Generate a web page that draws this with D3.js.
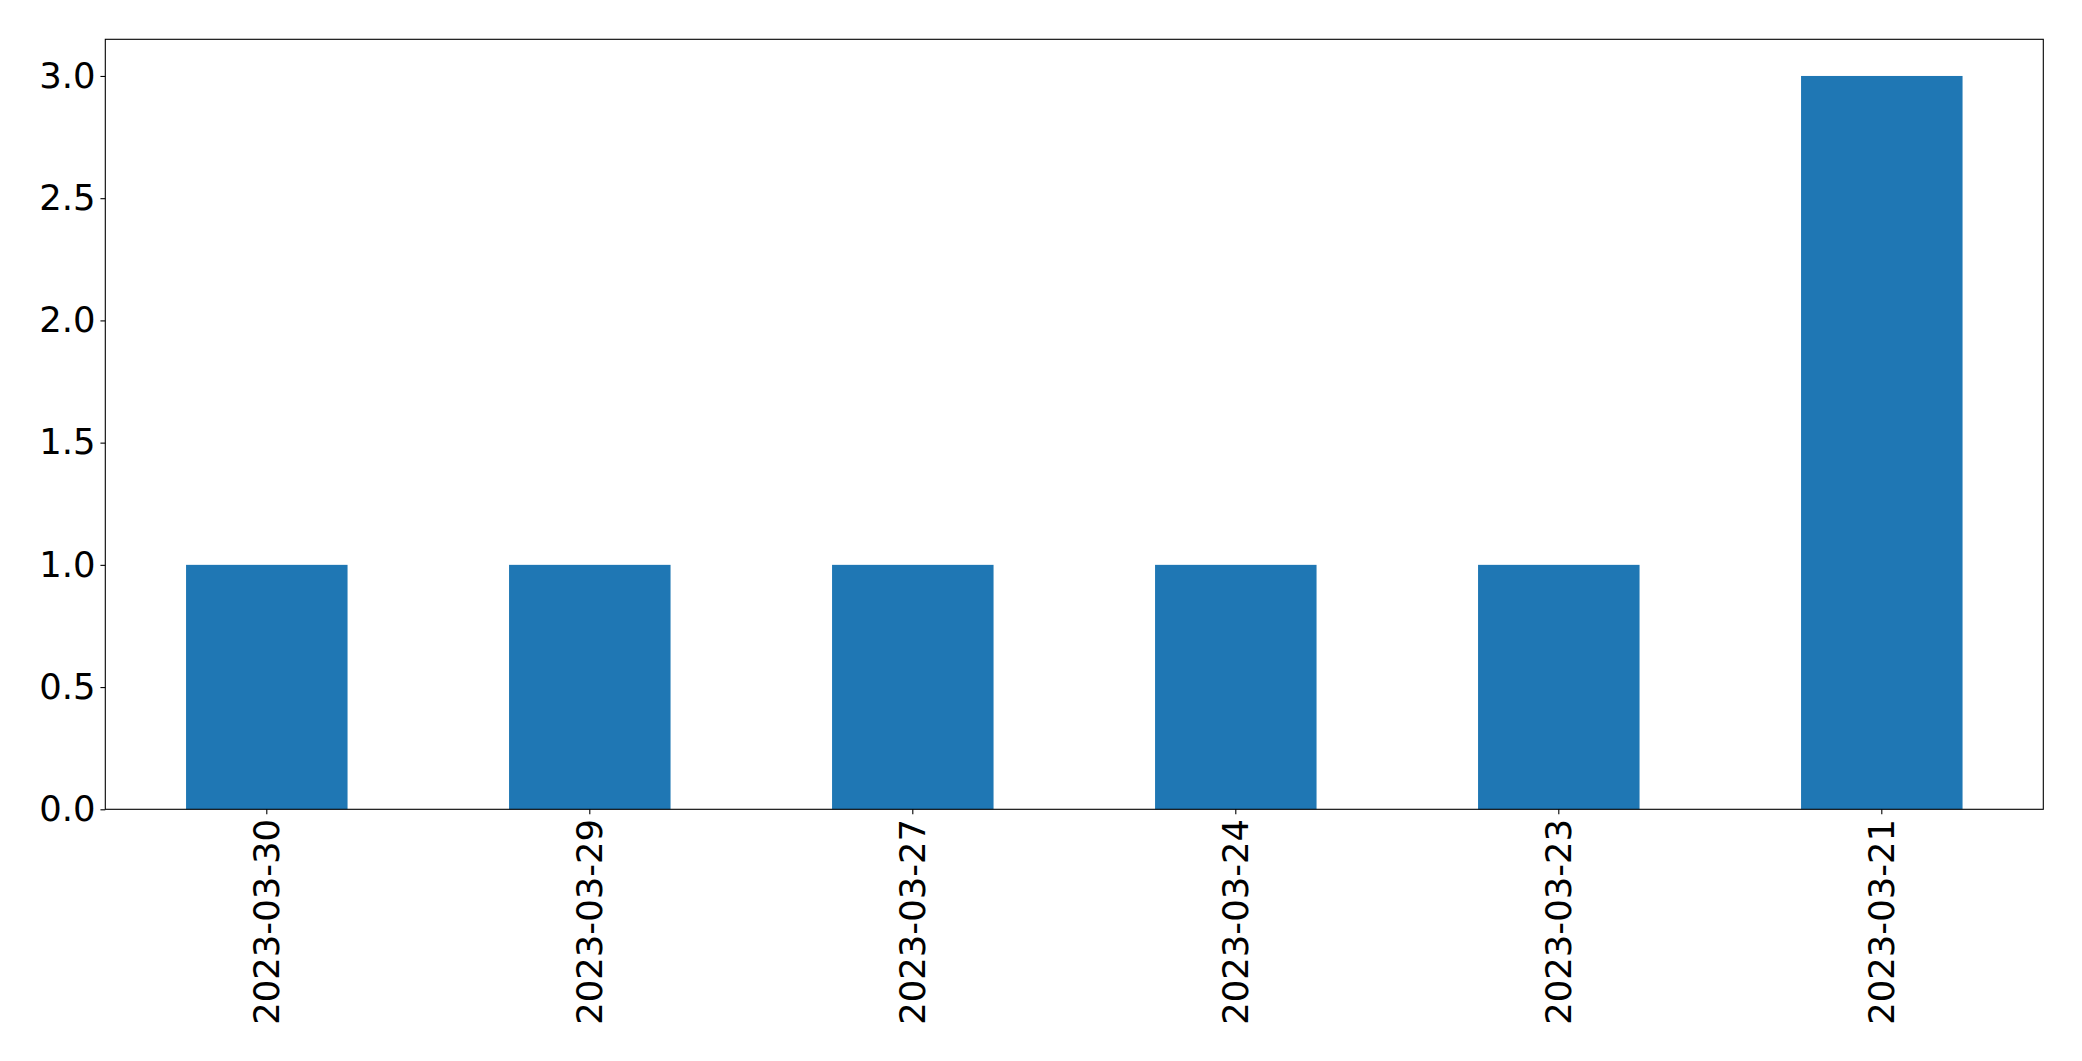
<!DOCTYPE html>
<html>
<head>
<meta charset="utf-8">
<script src="https://cdn.jsdelivr.net/npm/d3@7"></script>
<style>
html,body{margin:0;padding:0;background:#fff;}
svg{display:block;}
text{font-family:"DejaVu Sans",sans-serif;fill:#000;}
</style>
</head>
<body>
<svg id="chart" width="2082" height="1061"></svg>
<script>
const categories = ["2023-03-30","2023-03-29","2023-03-27","2023-03-24","2023-03-23","2023-03-21"];
const values = [1,1,1,1,1,3];
const yTicks = [0,0.5,1.0,1.5,2.0,2.5,3.0];

const W = 2082, H = 1061;
const m = {left:105.3, right:W-2043.3, top:39.3, bottom:H-809.3};
const svg = d3.select("#chart");
const iw = W - m.left - m.right, ih = H - m.top - m.bottom;
const g = svg.append("g").attr("transform",`translate(${m.left},${m.top})`);

const x = d3.scaleBand().domain(categories).range([0,iw]).paddingInner(0.5).paddingOuter(0.25);
const y = d3.scaleLinear().domain([0, d3.max(values)*1.05]).range([ih,0]);

g.selectAll("rect.bar").data(values).enter().append("rect")
  .attr("class","bar")
  .attr("x",(d,i)=>x(categories[i]))
  .attr("width",x.bandwidth())
  .attr("y",d=>y(d))
  .attr("height",d=>ih-y(d))
  .attr("fill","#1f77b4");

const fs = 35.4;
const yAxis = g.append("g").call(d3.axisLeft(y).tickValues(yTicks).tickFormat(d3.format(".1f")).tickSize(4.86).tickPadding(4.86));
yAxis.attr("font-size",null).attr("font-family",null);
yAxis.select(".domain").remove();
yAxis.selectAll("line").attr("stroke","#000").attr("stroke-width",1.1);
yAxis.selectAll("text").style("font-size",fs+"px").style("font-family","DejaVu Sans");

const xAxis = g.append("g").attr("transform",`translate(0,${ih})`)
  .call(d3.axisBottom(x).tickSize(4.86).tickPadding(4.86));
xAxis.attr("font-size",null).attr("font-family",null);
xAxis.select(".domain").remove();
xAxis.selectAll("line").attr("stroke","#000").attr("stroke-width",1.1);
xAxis.selectAll("text")
  .style("font-size",fs+"px").style("font-family","DejaVu Sans")
  .attr("text-anchor","end")
  .attr("dy","0.35em")
  .attr("transform",`rotate(-90)`)
  .attr("x",-(4.86+4.86))
  .attr("y",0);

g.append("rect").attr("x",0).attr("y",0).attr("width",iw).attr("height",ih)
  .attr("fill","none").attr("stroke","#000").attr("stroke-width",1.1);
</script>
</body>
</html>
